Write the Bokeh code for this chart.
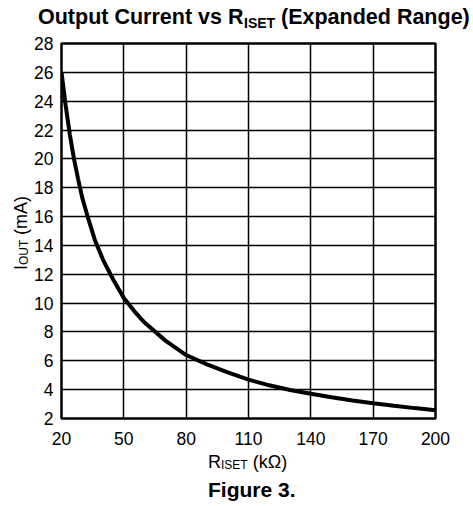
from bokeh.plotting import figure
from bokeh.models import Range1d, FixedTicker, Div
from bokeh.layouts import column, row
from bokeh.embed import file_html
from bokeh.resources import INLINE

# ---- data ----
r_iset_kohm = [20, 22, 24, 26, 28, 30, 33, 36, 40, 45, 50, 55, 60, 70, 80, 90,
               100, 110, 120, 130, 140, 150, 160, 170, 180, 190, 200]
i_out_ma = [26.0, 23.7, 21.7, 20.0, 18.6, 17.3, 15.8, 14.4, 13.0, 11.6, 10.35,
            9.45, 8.65, 7.4, 6.4, 5.75, 5.2, 4.7, 4.3, 3.98, 3.72, 3.48, 3.25,
            3.05, 2.88, 2.72, 2.58]
x_ticks = [20, 50, 80, 110, 140, 170, 200]
y_ticks = [2, 4, 6, 8, 10, 12, 14, 16, 18, 20, 22, 24, 26, 28]

title_main, title_sub, title_rest = "Output Current vs R", "ISET", "(Expanded Range)"
xlab_main, xlab_sub, xlab_rest = "R", "ISET", "(k&#937;)"
ylab_main, ylab_sub, ylab_rest = "I", "OUT", "(mA)"
caption = "Figure 3."

FONT = "'Liberation Sans', Arial, sans-serif"
W = 473
TITLE_H, YLAB_W = 33, 31
BL, BR, BT, BB = 28, 37, 10, 30        # figure borders (left one grows to ~30)
FW, FH = 374, 375
FIG_H = BT + FH + BB
BOTTOM_H = 506 - TITLE_H - FIG_H

p = figure(frame_width=FW, frame_height=FH, output_backend="svg",
           toolbar_location=None, x_range=Range1d(20, 200), y_range=Range1d(2, 28),
           min_border_left=BL, min_border_right=BR,
           min_border_top=BT, min_border_bottom=BB)
p.background_fill_color = "white"
p.border_fill_color = "white"
p.outline_line_color = "black"
p.outline_line_width = 2.5

for ax, ticks in ((p.xaxis, x_ticks), (p.yaxis, y_ticks)):
    ax.ticker = FixedTicker(ticks=ticks)
    ax.axis_line_color = None
    ax.major_tick_line_color = None
    ax.minor_tick_line_color = None
    ax.major_tick_out = 0
    ax.major_tick_in = 0
    ax.minor_tick_out = 0
    ax.minor_tick_in = 0
    ax.major_label_text_font = "Liberation Sans"
    ax.major_label_text_font_size = "17.5px"
    ax.major_label_text_color = "black"
p.xaxis.major_label_standoff = 13
p.yaxis.major_label_standoff = 8

p.xgrid.ticker = FixedTicker(ticks=x_ticks)
p.ygrid.ticker = FixedTicker(ticks=y_ticks)
for g in (p.xgrid, p.ygrid):
    g.grid_line_color = "black"
    g.grid_line_width = 1.5
    g.grid_line_alpha = 1.0

p.line(r_iset_kohm, i_out_ma, line_color="black", line_width=4)

ASC = 0.8465   # baseline offset (em) of a line-height:1 box


def piece(text, left, baseline, size, bold=False, rotated=False):
    """absolutely placed text; for rotated text 'left' is the baseline x and
    'baseline' is the starting y of the text (reading bottom to top)."""
    w = "bold" if bold else "normal"
    if rotated:
        x, y = left - ASC * size, baseline
        extra = "transform:rotate(-90deg); transform-origin:0 0;"
    else:
        x, y = left, baseline - ASC * size
        extra = ""
    return (f'<div style="position:absolute; left:{x:.2f}px; top:{y:.2f}px; '
            f'font-family:{FONT}; font-size:{size}px; font-weight:{w}; '
            f'line-height:1; white-space:nowrap; color:black; {extra}">{text}</div>')


def box(w, h, inner):
    return Div(width=w, height=h, margin=0,
               text=(f'<div style="position:relative; width:{w}px; height:{h}px; '
                     f'overflow:visible">{inner}</div>'))


title_div = box(W, TITLE_H,
                piece(title_main, 38, 25, 21.5, True)
                + piece(title_sub, 244, 28, 14, True)
                + piece(title_rest, 281, 25, 21.5, True))

yb = 27
ylab_div = box(YLAB_W, FIG_H,
               piece(ylab_main, yb, 270 - TITLE_H, 18, rotated=True)
               + piece(ylab_sub, yb + 1, 265 - TITLE_H, 12, rotated=True)
               + piece(ylab_rest, yb, 234.7 - TITLE_H, 18, rotated=True))

bt = TITLE_H + FIG_H
bottom_div = box(W, BOTTOM_H,
                 piece(xlab_main, 208, 468 - bt, 18)
                 + piece(xlab_sub, 221, 469 - bt, 12)
                 + piece(xlab_rest, 252.7, 468 - bt, 18)
                 + piece(caption, 208, 497 - bt, 21, True))

layout = column(title_div, row(ylab_div, p, spacing=0), bottom_div, spacing=0)

open("out.html", "w").write(file_html(layout, INLINE))
